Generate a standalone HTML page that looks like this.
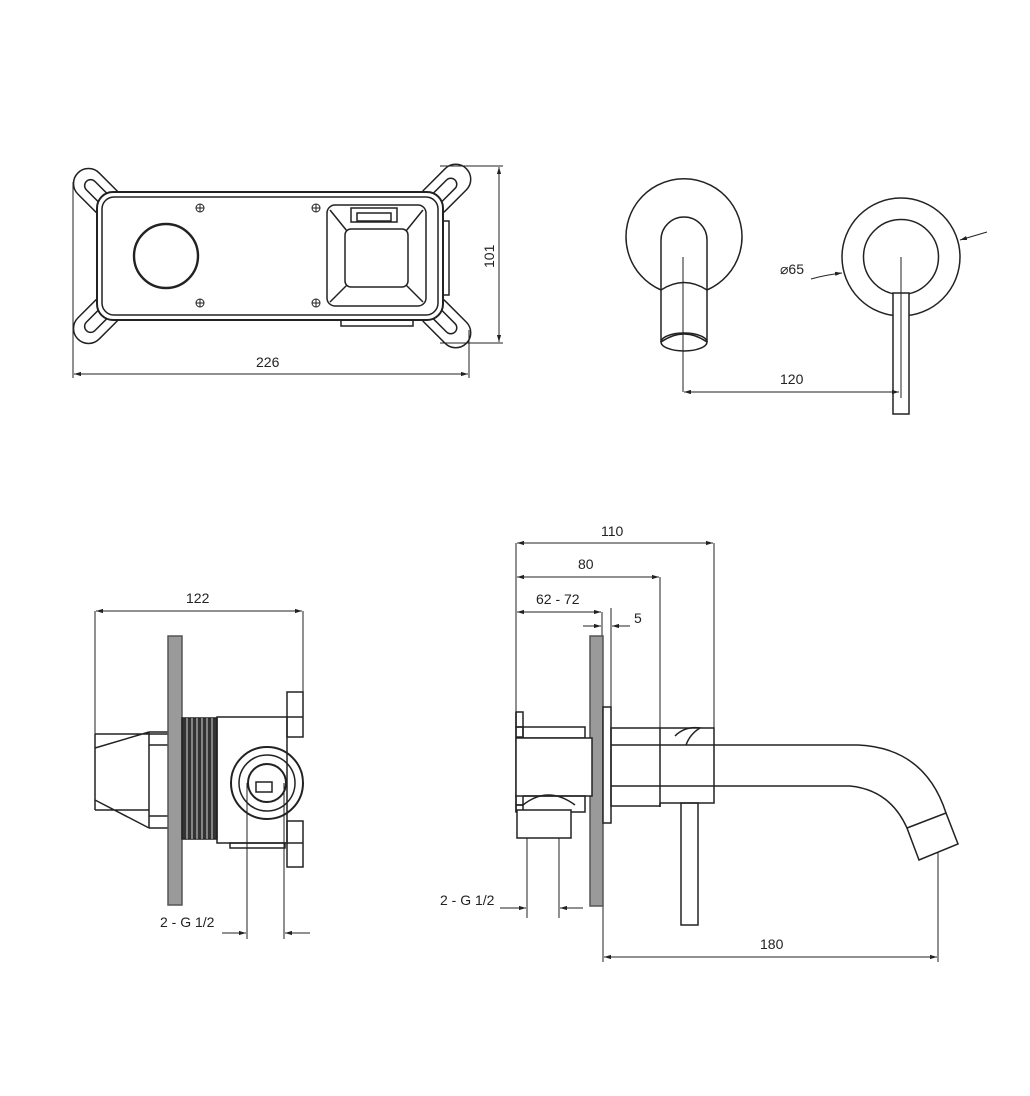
<!DOCTYPE html>
<html><head><meta charset="utf-8"><style>
html,body{margin:0;padding:0;background:#fff;}
svg{display:block;}
text{font-family:"Liberation Sans",sans-serif;font-size:14px;fill:#222;}
</style></head><body>
<svg width="1030" height="1096" viewBox="0 0 1030 1096" xmlns="http://www.w3.org/2000/svg">
<defs>
<marker id="a" viewBox="0 0 10 10" refX="10" refY="5" markerWidth="7" markerHeight="7" orient="auto-start-reverse"><path d="M0,2 L10,5 L0,8 z" fill="#222"/></marker>
</defs>
<g fill="none" stroke="#222" stroke-width="1.5">
<!-- ===== TOP LEFT ===== -->
<g transform="rotate(45 97 192)"><rect x="70" y="177" width="60" height="30" rx="15" fill="#fff"/><rect x="82" y="186" width="34" height="12" rx="6"/></g>
<g transform="rotate(-45 443 192)"><rect x="416" y="177" width="60" height="30" rx="15" fill="#fff"/><rect x="426" y="186" width="34" height="12" rx="6"/></g>
<g transform="rotate(-45 97 320)"><rect x="70" y="305" width="60" height="30" rx="15" fill="#fff"/><rect x="82" y="314" width="34" height="12" rx="6"/></g>
<g transform="rotate(45 443 320)"><rect x="416" y="305" width="60" height="30" rx="15" fill="#fff"/><rect x="426" y="314" width="34" height="12" rx="6"/></g>
<rect x="443" y="221" width="6" height="74"/>
<rect x="341" y="320" width="72" height="6"/>
<rect x="97" y="192" width="346" height="128" rx="16" fill="#fff" stroke-width="2"/>
<rect x="102" y="197" width="336" height="118" rx="12"/>
<circle cx="166" cy="256" r="32" stroke-width="2.4"/>
<g stroke-width="1"><circle cx="200" cy="208" r="4"/><circle cx="316" cy="208" r="4"/><circle cx="200" cy="303" r="4"/><circle cx="316" cy="303" r="4"/>
<path d="M196,208h8M200,204v8M312,208h8M316,204v8M196,303h8M200,299v8M312,303h8M316,299v8"/></g>
<rect x="327" y="205" width="99" height="101" rx="8"/>
<rect x="345" y="229" width="63" height="58" rx="6"/>
<path d="M330,210L347,231M423,210L406,231M330,302L347,285M423,302L406,285"/>
<rect x="351" y="208" width="46" height="14"/><rect x="357" y="213" width="34" height="8"/>
<g stroke-width="1">
<path d="M440,166H503M440,343H503M73,182V378M469,330V378"/>
<path d="M499,167V342" marker-start="url(#a)" marker-end="url(#a)"/>
<path d="M74,374H468" marker-start="url(#a)" marker-end="url(#a)"/>
</g>
<!-- ===== TOP RIGHT ===== -->
<path d="M661,290 A58,58 0 1 1 707,290"/>
<path d="M661,342V240 A23,23 0 0 1 707,240V342"/>
<path d="M661,290 Q684,275 707,290"/>
<ellipse cx="684" cy="342" rx="23" ry="9"/>
<path d="M661,342 Q684,326 707,342"/>
<path d="M683,257V392" stroke-width="1"/>
<circle cx="901" cy="257" r="59"/>
<circle cx="901" cy="257" r="37.5"/>
<rect x="893" y="293" width="16" height="121" fill="#fff"/>
<path d="M901,257V398" stroke-width="1"/>
<g stroke-width="1">
<path d="M684,392H899" marker-start="url(#a)" marker-end="url(#a)"/>
<path d="M811,279 Q825,275 842,273" marker-end="url(#a)"/>
<path d="M987,232L960,240" marker-end="url(#a)"/>
</g>
<!-- ===== BOTTOM LEFT ===== -->
<g stroke-width="1">
<path d="M95,611V735M303,611V692"/>
<path d="M96,611H302" marker-start="url(#a)" marker-end="url(#a)"/>
<path d="M247,783V939M284,783V939"/>
<path d="M222,933H246" marker-end="url(#a)"/>
<path d="M310,933H285" marker-end="url(#a)"/>
</g>
<path d="M95,734H149L182,734M95,810H149M95,734V810M95,748L149,732M95,800L149,828M149,732V828M149,732H217M149,828H217M149,745H182M149,816H182"/>
<rect x="168" y="636" width="14" height="269" fill="#9a9a9a" stroke="#555"/>
<rect x="182" y="718" width="35" height="121" fill="#333"/>
<path d="M187,718V839M192,718V839M197,718V839M202,718V839M207,718V839M212,718V839" stroke="#fff" stroke-width="0.8"/>
<rect x="217" y="717" width="70" height="126"/>
<rect x="287" y="692" width="16" height="45"/><path d="M287,717H303"/>
<rect x="287" y="821" width="16" height="46"/><path d="M287,843H303"/>
<rect x="230" y="843" width="55" height="5"/>
<circle cx="267" cy="783" r="36" stroke-width="2"/>
<circle cx="267" cy="783" r="28"/>
<circle cx="267" cy="783" r="19" stroke-width="2"/>
<rect x="256" y="782" width="16" height="10"/>
<!-- ===== BOTTOM RIGHT ===== -->
<g stroke-width="1">
<path d="M516,543V712M714,543V728M660,577V728M602,612V636M611,608V707"/>
<path d="M517,543H713" marker-start="url(#a)" marker-end="url(#a)"/>
<path d="M517,577H659" marker-start="url(#a)" marker-end="url(#a)"/>
<path d="M517,612H601" marker-start="url(#a)" marker-end="url(#a)"/>
<path d="M583,626H601" marker-end="url(#a)"/>
<path d="M630,626H612" marker-end="url(#a)"/>
<path d="M527,838V918M559,838V918"/>
<path d="M500,908H526" marker-end="url(#a)"/>
<path d="M583,908H560" marker-end="url(#a)"/>
<path d="M603,906V962M938,852V962"/>
<path d="M604,957H937" marker-start="url(#a)" marker-end="url(#a)"/>
</g>
<rect x="590" y="636" width="13" height="270" fill="#9a9a9a" stroke="#555"/>
<path d="M516,712V812"/>
<rect x="516" y="712" width="7" height="15"/><rect x="516" y="727" width="7" height="10"/>
<rect x="516" y="795" width="7" height="10"/><rect x="516" y="805" width="7" height="7"/>
<rect x="523" y="727" width="62" height="11"/>
<rect x="516" y="738" width="76" height="58" fill="#fff"/>
<path d="M523,805 Q548,785 575,805"/>
<path d="M523,796H585V812H523"/>
<rect x="517" y="810" width="54" height="28" fill="#fff"/>
<rect x="603" y="707" width="8" height="116" fill="#fff"/>
<rect x="611" y="728" width="49" height="78"/>
<path d="M660,728H714V803H660M660,803V807"/>
<path d="M675,736 Q685,726 700,728 Q690,734 686,745"/>
<path d="M611,745H858 Q925,748 946,813"/>
<path d="M611,786H850 Q890,790 907,828"/>
<path d="M907,828L946,813L958,844L919,860Z"/>
<rect x="681" y="803" width="17" height="122"/>
</g>
<text x="256" y="367">226</text>
<text transform="translate(494,268) rotate(-90)">101</text>
<text x="780" y="384">120</text>
<text x="780" y="274" font-size="13">⌀65</text>
<text x="186" y="603">122</text>
<text x="160" y="927">2 - G 1/2</text>
<text x="601" y="536">110</text>
<text x="578" y="569">80</text>
<text x="536" y="604">62 - 72</text>
<text x="634" y="623">5</text>
<text x="440" y="905">2 - G 1/2</text>
<text x="760" y="949">180</text>
</svg>
</body></html>
